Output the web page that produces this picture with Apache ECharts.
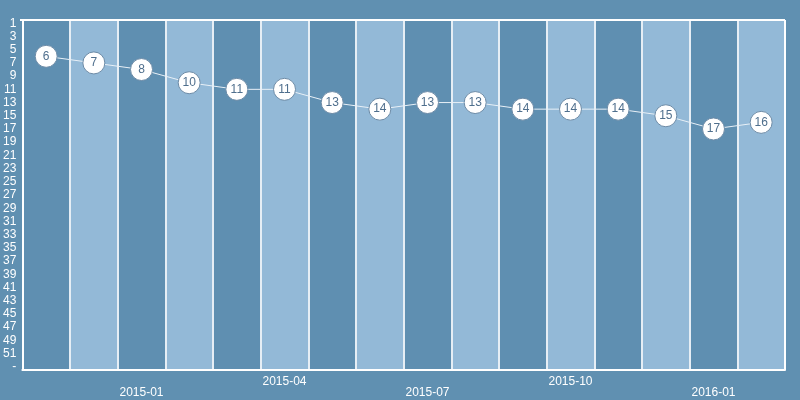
<!DOCTYPE html>
<html><head><meta charset="utf-8">
<script src="https://cdn.jsdelivr.net/npm/echarts@6/dist/echarts.min.js"></script>
<style>html,body{margin:0;padding:0;background:#6090b1}#c{width:800px;height:400px}</style>
</head><body><div id="c"></div>
<script>
const months = ['2014-11','2014-12','2015-01','2015-02','2015-03','2015-04','2015-05','2015-06','2015-07','2015-08','2015-09','2015-10','2015-11','2015-12','2016-01','2016-02'];
const ranks = [6,7,8,10,11,11,13,14,13,13,14,14,14,15,17,16];
const rankCategories = [];
for (let i = 1; i <= 52; i++) rankCategories.push(String(i));
rankCategories.push('-');

const chart = echarts.init(document.getElementById('c'));
chart.setOption({
  backgroundColor: '#6090b1',
  animation: false,
  grid: {left: 20, right: 15, top: 20, bottom: 30, containLabel: false},
  xAxis: {
    type: 'category',
    data: months,
    boundaryGap: true,
    axisLine: {lineStyle: {color: '#ffffff', width: 2}},
    axisTick: {show: false},
    axisLabel: {
      color: '#ffffff', fontSize: 12, margin: 6, lineHeight: 11,
      interval: (i) => i % 3 === 2,
      formatter: (v, i) => (i % 6 === 2 ? '\n' + v : v)
    },
    splitLine: {show: true, interval: 0, lineStyle: {color: '#e6eef5', width: 2}},
    splitArea: {show: true, interval: 0, areaStyle: {color: ['#5f8fb1', '#93b9d7']}}
  },
  yAxis: {
    type: 'category',
    data: rankCategories,
    inverse: true,
    boundaryGap: true,
    axisLine: {lineStyle: {color: '#ffffff', width: 2}},
    axisTick: {show: false},
    axisLabel: {color: '#ffffff', fontSize: 12, margin: 6, interval: 1, padding: [3, 0, 0, 0]},
    splitLine: {show: false}
  },
  series: [{
    type: 'line',
    data: ranks.map(String),
    symbol: 'circle',
    symbolSize: 22,
    itemStyle: {color: '#ffffff', borderColor: '#6b8aa6', borderWidth: 1},
    lineStyle: {color: '#e8f0f7', width: 1},
    label: {show: true, position: 'inside', color: '#4f6f8d', fontSize: 12,
      formatter: (p) => String(ranks[p.dataIndex])},
    z: 5
  }],
  graphic: [{
    type: 'line', shape: {x1: 20, y1: 20, x2: 785, y2: 20}, style: {stroke: '#ffffff', lineWidth: 2}, z: 10
  }, {
    type: 'line', shape: {x1: 785, y1: 20, x2: 785, y2: 370}, style: {stroke: '#ffffff', lineWidth: 2}, z: 10
  }]
});
</script></body></html>
